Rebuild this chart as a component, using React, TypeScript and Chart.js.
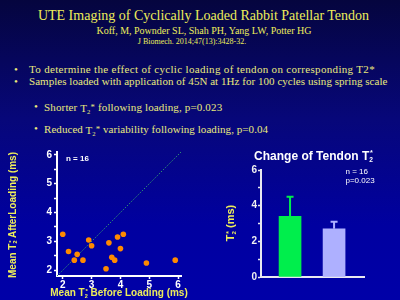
import React, { useEffect, useRef } from "react";
import { Chart, registerables } from "chart.js";

Chart.register(...registerables);

// ---------- data ----------
const scatterBefore = [2.0, 2.2, 2.4, 2.5, 2.7, 2.9, 3.0, 3.5, 3.6, 3.7, 3.8, 3.9, 4.0, 4.1, 4.9, 5.9];
const scatterAfter = [3.25, 2.65, 2.35, 2.55, 2.35, 3.05, 2.85, 2.05, 2.95, 2.45, 2.35, 3.15, 2.75, 3.25, 2.25, 2.35];
const scatterRange = [1.8, 6.1];
const scatterTicks = [2, 3, 4, 5, 6];
const scatterMinorTicks = [2, 2.5, 3, 3.5, 4, 4.5, 5, 5.5, 6];

const barCategories = ["Before loading", "After loading"];
const barMeans = [3.4, 2.7];
const barErrors = [1.1, 0.4];
const barTicks = [0, 1, 2, 3, 4, 5, 6];
const barColors = ["#00ee4c", "#aeb0ff"];

const YELLOW = "#eded5a";
const PALE = "#eaea7c";
const SANS = "'Liberation Sans', Arial, sans-serif";
const SERIF = "'Liberation Serif', 'Times New Roman', serif";

function Txt(props: { x: number; y: number; size: number; color?: string; family?: string; bold?: boolean; center?: boolean; ls?: number; children: any }) {
  const { x, y, size, color = PALE, family = SERIF, bold = false, center = false, ls = 0, children } = props;
  return (
    <div
      style={{
        position: "absolute",
        left: x,
        top: y - size * 0.6,
        fontSize: size,
        lineHeight: `${size * 1.2}px`,
        fontFamily: family,
        fontWeight: bold ? "bold" : "normal",
        letterSpacing: ls ? `${ls}px` : undefined,
        color,
        whiteSpace: "nowrap",
        transform: center ? "translateX(-50%)" : undefined,
      }}
    >
      {children}
    </div>
  );
}

function T2Stack() {
  return (
    <span style={{ position: "relative", display: "inline-block" }}>
      T
      <span style={{ fontSize: "0.55em", verticalAlign: "-0.35em" }}>2</span>
      <span style={{ position: "absolute", right: 0, top: "-0.35em", fontSize: "0.6em" }}>*</span>
    </span>
  );
}

function T2Sub() {
  return (
    <span>
      T<span style={{ fontSize: "0.6em", verticalAlign: "-0.3em" }}>2</span>
      <span style={{ fontSize: "0.8em", verticalAlign: "0.25em" }}>*</span>
    </span>
  );
}

function Rot(props: { cx: number; cy: number; size: number; color: string; children: any }) {
  return (
    <div
      style={{
        position: "absolute",
        left: props.cx,
        top: props.cy,
        transform: "translate(-50%, -50%) rotate(-90deg)",
        fontFamily: SANS,
        fontWeight: "bold",
        fontSize: props.size,
        lineHeight: `${props.size * 1.2}px`,
        color: props.color,
        whiteSpace: "nowrap",
      }}
    >
      {props.children}
    </div>
  );
}

const tickFont = { family: SANS, size: 10, weight: "bold" as const };

export default function App() {
  const scatterRef = useRef<HTMLCanvasElement>(null);
  const barRef = useRef<HTMLCanvasElement>(null);

  useEffect(() => {
    const sc = new Chart(scatterRef.current!, {
      type: "scatter",
      data: {
        datasets: [
          {
            label: "After vs Before",
            data: scatterBefore.map((x, i) => ({ x, y: scatterAfter[i] })),
            backgroundColor: "#ff8a00",
            borderColor: "#ff8a00",
            borderWidth: 0,
            pointRadius: 2.8,
            order: 1,
          },
          {
            label: "identity",
            data: scatterRange.map((v) => ({ x: v, y: v })),
            showLine: true,
            borderColor: "#2f8f72",
            borderWidth: 1,
            borderDash: [1.5, 1.5],
            pointRadius: 0,
            order: 2,
          } as any,
        ],
      },
      options: {
        responsive: false,
        animation: false,
        layout: { padding: { left: 0, right: 19, top: 12, bottom: 0 } },
        plugins: { legend: { display: false }, tooltip: { enabled: false } },
        scales: {
          x: {
            type: "linear",
            min: scatterRange[0],
            max: scatterRange[1],
            afterBuildTicks: (s: any) => {
              s.ticks = scatterTicks.map((v) => ({ value: v }));
            },
            afterFit: (s: any) => {
              s.height = 24;
            },
            ticks: { color: "#ffffff", font: tickFont, padding: 0, autoSkip: false, maxRotation: 0 },
            grid: { drawOnChartArea: false, tickLength: 3, tickColor: "#ffffff", tickWidth: 1.5 },
            border: { color: "#ffffff", width: 2 },
          },
          y: {
            type: "linear",
            min: scatterRange[0],
            max: scatterRange[1],
            afterBuildTicks: (s: any) => {
              s.ticks = scatterMinorTicks.map((v) => ({ value: v }));
            },
            afterFit: (s: any) => {
              s.width = 57;
            },
            ticks: {
              color: "#ffffff",
              font: tickFont,
              padding: 2,
              autoSkip: false,
              callback: (v: any) => (scatterTicks.includes(Number(v)) ? String(v) : ""),
            },
            grid: { drawOnChartArea: false, tickLength: 3, tickColor: "#ffffff", tickWidth: 1.5 },
            border: { color: "#ffffff", width: 2 },
          },
        },
      },
    });

    const errorBars = {
      id: "errorBars",
      afterDatasetsDraw(chart: any) {
        const ctx = chart.ctx;
        const meta = chart.getDatasetMeta(0);
        const ys = chart.scales.y;
        meta.data.forEach((el: any, i: number) => {
          const top = ys.getPixelForValue(barMeans[i] + barErrors[i]);
          ctx.save();
          ctx.strokeStyle = barColors[i];
          ctx.lineWidth = 2;
          ctx.beginPath();
          ctx.moveTo(el.x, el.y);
          ctx.lineTo(el.x, top);
          ctx.moveTo(el.x - 3.5, top);
          ctx.lineTo(el.x + 3.5, top);
          ctx.stroke();
          ctx.restore();
        });
      },
    };

    const bc = new Chart(barRef.current!, {
      type: "bar",
      data: {
        datasets: [
          {
            label: "T2*",
            data: barMeans.map((y, i) => ({ x: i + 1, y, name: barCategories[i] })) as any,
            backgroundColor: barColors,
            borderWidth: 0,
            barThickness: 22,
          },
        ],
      },
      options: {
        responsive: false,
        animation: false,
        layout: { padding: { left: 0, right: 36, top: 30, bottom: 0 } },
        plugins: { legend: { display: false }, tooltip: { enabled: false } },
        scales: {
          x: {
            type: "linear",
            offset: false,
            min: 0.34,
            max: 2.68,
            afterFit: (s: any) => {
              s.height = 23;
            },
            ticks: { display: false },
            grid: { display: false, offset: false },
            border: { color: "#e8e8f0", width: 2 },
          },
          y: {
            type: "linear",
            min: 0,
            max: 6,
            afterBuildTicks: (s: any) => {
              s.ticks = barTicks.map((v) => ({ value: v }));
            },
            afterFit: (s: any) => {
              s.width = 61;
            },
            ticks: {
              color: "#f0f0f0",
              font: tickFont,
              padding: 1,
              autoSkip: false,
              callback: (v: any) => (Number(v) % 2 === 0 ? String(v) : ""),
            },
            grid: { drawOnChartArea: false, tickLength: 3, tickColor: "#e8e8f0", tickWidth: 1.5 },
            border: { color: "#e8e8f0", width: 2 },
          },
        },
      },
      plugins: [errorBars],
    });

    return () => {
      sc.destroy();
      bc.destroy();
    };
  }, []);

  return (
    <div
      style={{
        position: "fixed",
        left: 0,
        top: 0,
        width: 400,
        height: 300,
        overflow: "hidden",
        background: "linear-gradient(to bottom, #05053e 0%, #07077a 40%, #0000a0 75%, #0000a8 100%)",
      }}
    >
      <Txt x={203.5} y={16} size={14} color={YELLOW} center>
        UTE Imaging of Cyclically Loaded Rabbit Patellar Tendon
      </Txt>
      <Txt x={204} y={31} size={10} color={YELLOW} center>
        Koff, M, Pownder SL, Shah PH, Yang LW, Potter HG
      </Txt>
      <Txt x={192} y={42} size={8} color={YELLOW} center>
        J Biomech. 2014;47(13):3428-32.
      </Txt>

      <Txt x={14} y={70} size={11}>•</Txt>
      <Txt x={29} y={70} size={11} ls={0.32}>
        To determine the effect of cyclic loading of tendon on corresponding T2*
      </Txt>
      <Txt x={14} y={82} size={11}>•</Txt>
      <Txt x={29} y={82} size={11} ls={0.04}>
        Samples loaded with application of 45N at 1Hz for 100 cycles using spring scale
      </Txt>
      <Txt x={34} y={107} size={11}>•</Txt>
      <Txt x={44} y={107} size={11} ls={0.15}>
        Shorter <T2Sub /> following loading, p=0.023
      </Txt>
      <Txt x={34} y={129} size={11}>•</Txt>
      <Txt x={44} y={129} size={11} ls={0.06}>
        Reduced <T2Sub /> variability following loading, p=0.04
      </Txt>

      <canvas
        ref={scatterRef}
        width={200}
        height={160}
        style={{ position: "absolute", left: 0, top: 140, width: 200, height: 160, display: "block" }}
      />
      <canvas
        ref={barRef}
        width={200}
        height={160}
        style={{ position: "absolute", left: 200, top: 140, width: 200, height: 160, display: "block" }}
      />

      <Txt x={66} y={159} size={8} color="#ffffff" family={SANS} bold>
        n = 16
      </Txt>
      <Rot cx={13.5} cy={215} size={10} color={YELLOW}>
        Mean <T2Stack /> AfterLoading (ms)
      </Rot>
      <Txt x={119} y={293} size={10} color={YELLOW} family={SANS} bold center>
        Mean <T2Stack /> Before Loading (ms)
      </Txt>

      <Txt x={313.5} y={156} size={12} color="#ffffff" family={SANS} bold center>
        Change of Tendon <T2Stack />
      </Txt>
      <Txt x={345.5} y={172} size={8} color="#ffffff" family={SANS}>
        n = 16
      </Txt>
      <Txt x={345.5} y={181} size={8} color="#ffffff" family={SANS}>
        p=0.023
      </Txt>
      <Rot cx={233} cy={222.5} size={11} color={YELLOW}>
        <T2Stack /> (ms)
      </Rot>
    </div>
  );
}
